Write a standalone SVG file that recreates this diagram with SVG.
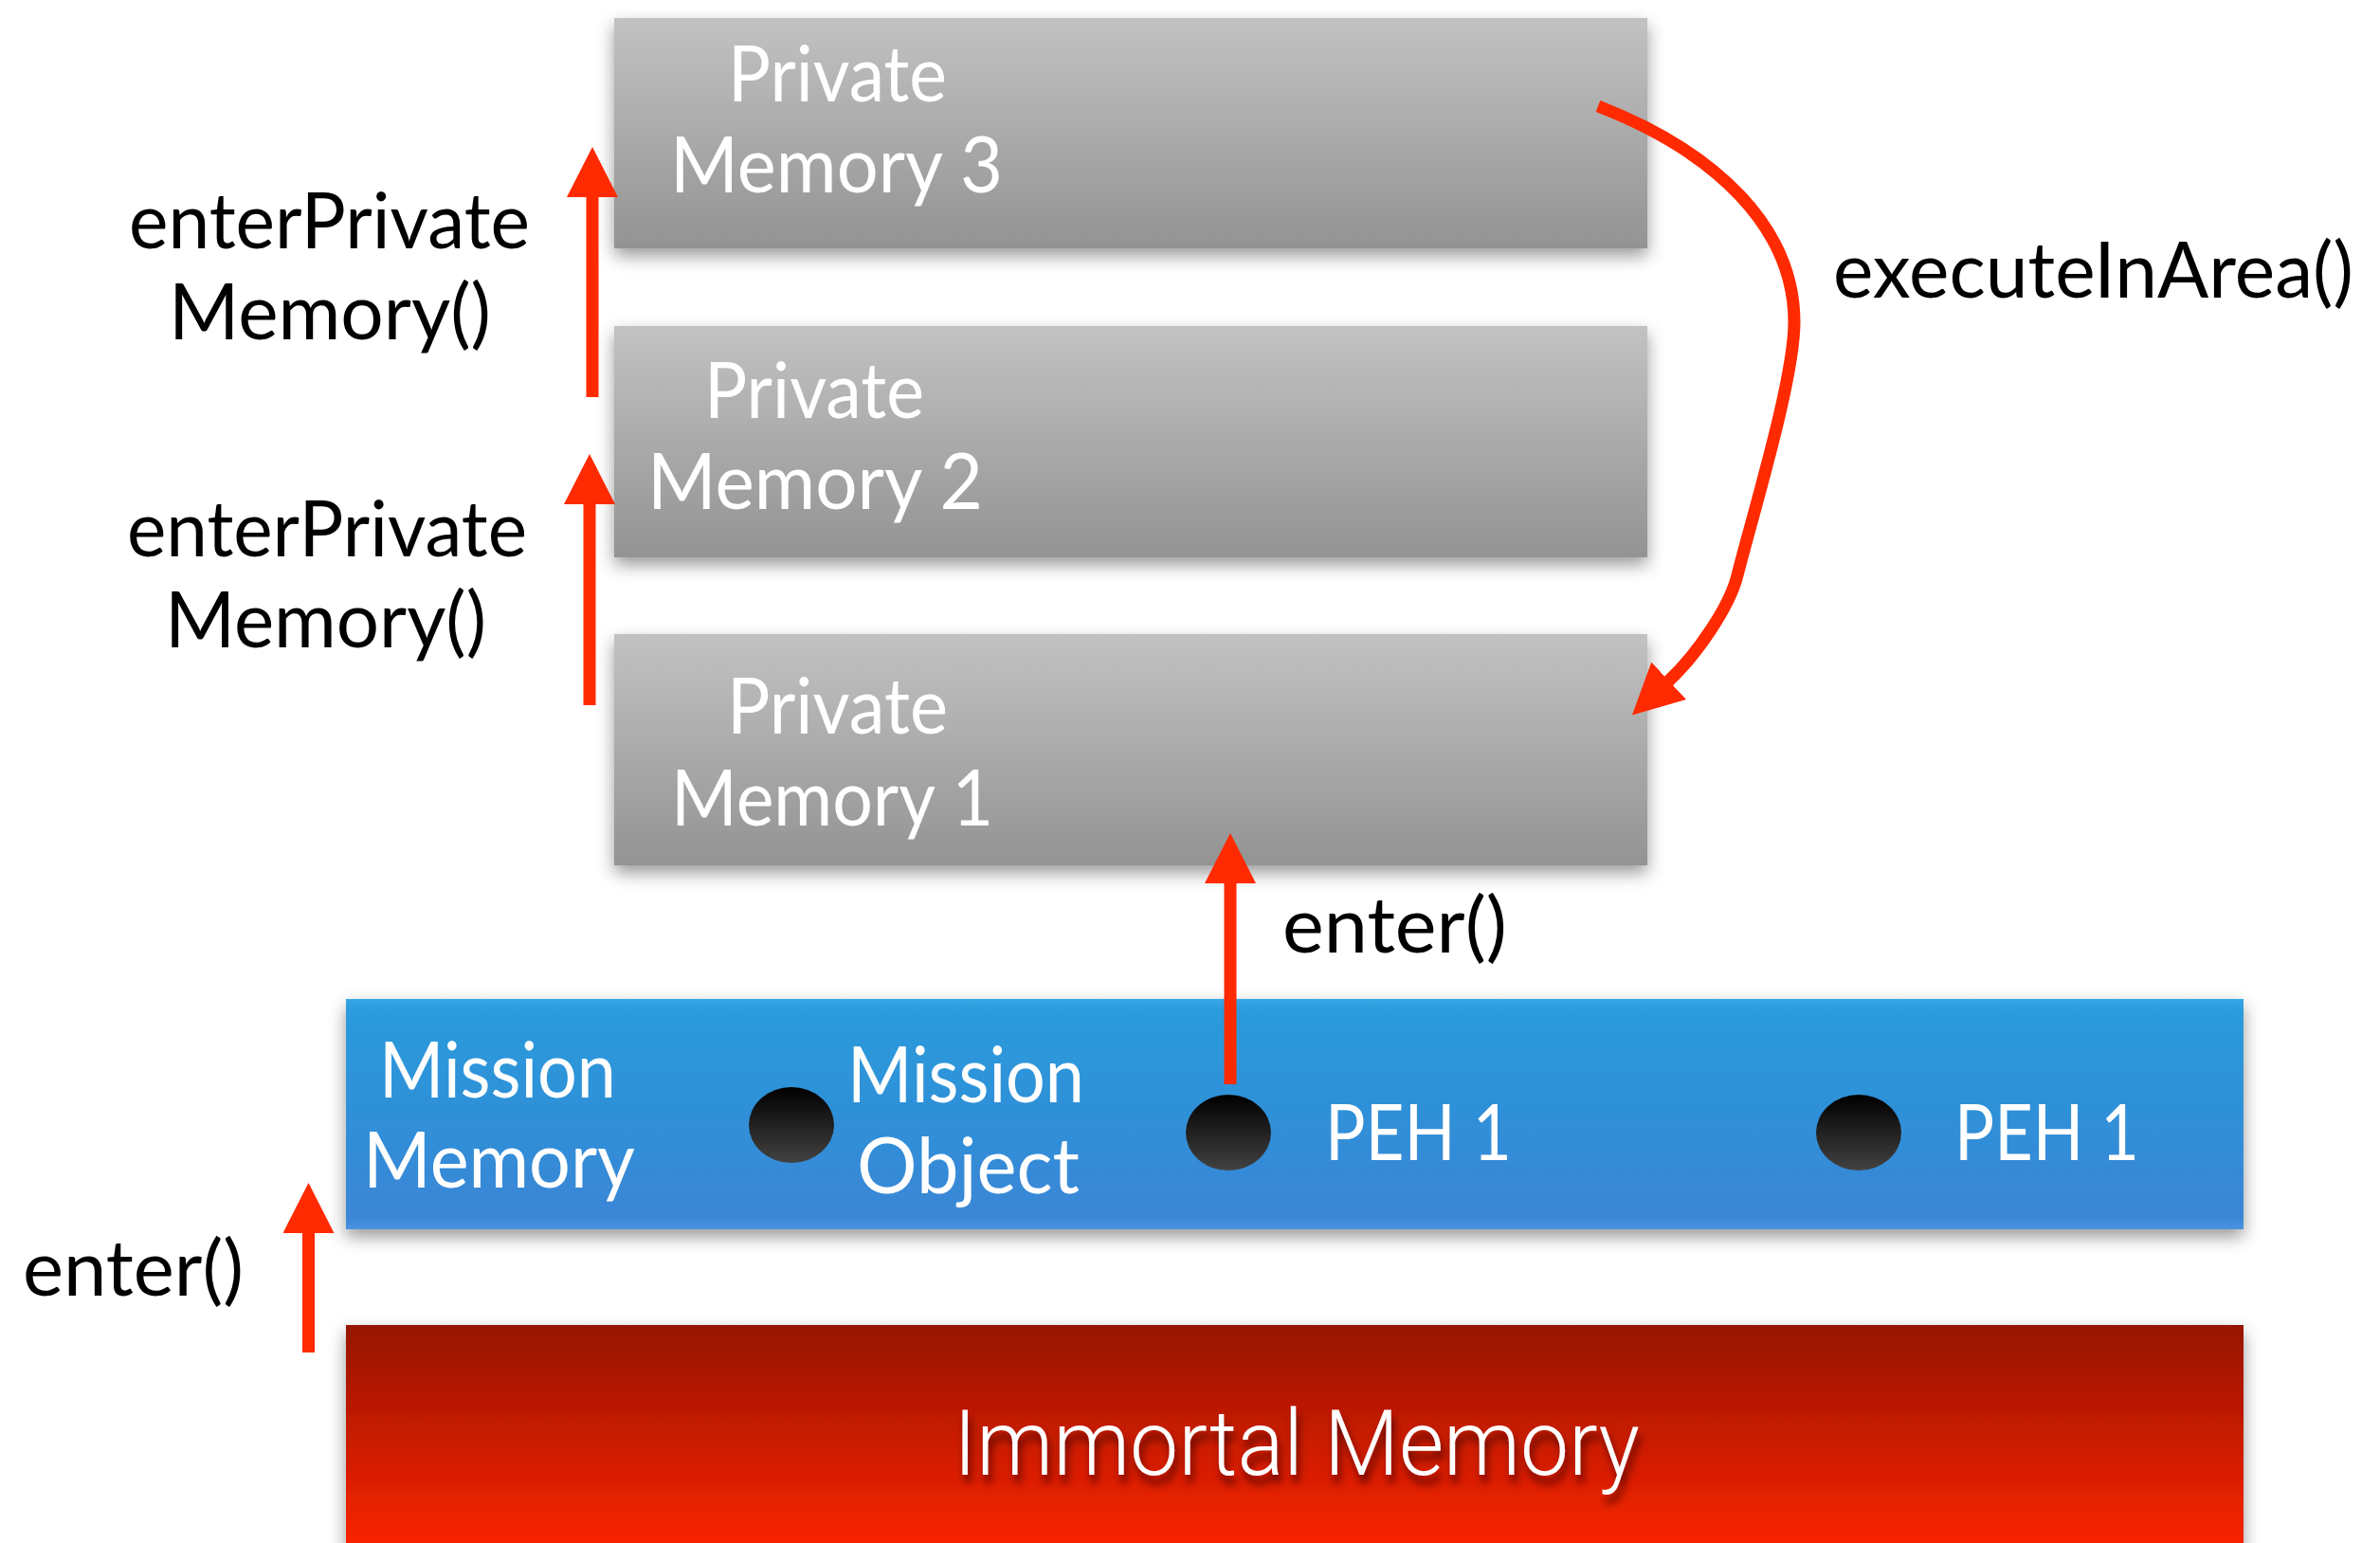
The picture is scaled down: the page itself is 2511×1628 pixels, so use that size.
<svg xmlns="http://www.w3.org/2000/svg" width="2511" height="1628" viewBox="0 0 2511 1628">
  <defs>
    <style>
      .lbl { font-family: Lato, "Open Sans", "Liberation Sans", sans-serif; font-size: 81px; }
      .dark { fill: #000000; }
      .light { fill: #ffffff; }
      .big { font-family: Roboto, Lato, "Liberation Sans", sans-serif; font-weight: 300; font-size: 97px; fill: #ffffff; }
      .wire { fill: none; stroke: #ff2a00; stroke-width: 13; stroke-linecap: butt; marker-end: url(#head); }
    </style>
    <linearGradient id="gGray" x1="0" y1="0" x2="0" y2="1">
      <stop offset="0" stop-color="#c2c2c2"/>
      <stop offset="1" stop-color="#939393"/>
    </linearGradient>
    <linearGradient id="gBlue" x1="0" y1="0" x2="0" y2="1">
      <stop offset="0" stop-color="#37a7e7"/>
      <stop offset="0.05" stop-color="#2b9bdc"/>
      <stop offset="0.5" stop-color="#2f90d8"/>
      <stop offset="0.95" stop-color="#3b86d6"/>
      <stop offset="1" stop-color="#4a93e0"/>
    </linearGradient>
    <linearGradient id="gRed" gradientUnits="userSpaceOnUse" x1="0" y1="1398" x2="0" y2="1628">
      <stop offset="0" stop-color="#961200"/>
      <stop offset="1" stop-color="#f82400"/>
    </linearGradient>
    <linearGradient id="gDot" x1="0" y1="0" x2="0" y2="1">
      <stop offset="0" stop-color="#000000"/>
      <stop offset="1" stop-color="#424242"/>
    </linearGradient>
    <filter id="boxShadow" x="-5%" y="-30%" width="110%" height="160%">
      <feDropShadow dx="0" dy="8" stdDeviation="9" flood-color="#000000" flood-opacity="0.4"/>
    </filter>
    <filter id="textShadow" x="-10%" y="-30%" width="120%" height="170%">
      <feDropShadow dx="3" dy="9" stdDeviation="4" flood-color="#3a0000" flood-opacity="0.75"/>
    </filter>
    <marker id="head" markerUnits="userSpaceOnUse" viewBox="0 -27 53 54" refX="1" refY="0" markerWidth="53" markerHeight="54" orient="auto">
      <path d="M0,-27 L53,0 L0,27 z" fill="#ff2a00"/>
    </marker>
  </defs>

  <rect width="2511" height="1628" fill="#ffffff"/>

  <!-- private memory areas, stacked -->
  <g id="private-memory-3">
    <rect x="648" y="19" width="1090" height="243" fill="url(#gGray)" filter="url(#boxShadow)"/>
    <text class="lbl light" x="768" y="107" textLength="231" lengthAdjust="spacingAndGlyphs">Private</text>
    <text class="lbl light" x="707" y="203" textLength="351" lengthAdjust="spacingAndGlyphs">Memory 3</text>
  </g>

  <g id="private-memory-2">
    <rect x="648" y="344" width="1090" height="244" fill="url(#gGray)" filter="url(#boxShadow)"/>
    <text class="lbl light" x="743" y="441" textLength="232" lengthAdjust="spacingAndGlyphs">Private</text>
    <text class="lbl light" x="683" y="537" textLength="354" lengthAdjust="spacingAndGlyphs">Memory 2</text>
  </g>

  <g id="private-memory-1">
    <rect x="648" y="669" width="1090" height="244" fill="url(#gGray)" filter="url(#boxShadow)"/>
    <text class="lbl light" x="767" y="774" textLength="233" lengthAdjust="spacingAndGlyphs">Private</text>
    <text class="lbl light" x="708" y="871" textLength="340" lengthAdjust="spacingAndGlyphs">Memory 1</text>
  </g>

  <!-- mission memory with its objects and handlers -->
  <g id="mission-memory">
    <rect x="365" y="1054" width="2002" height="243" fill="url(#gBlue)" filter="url(#boxShadow)"/>
    <text class="lbl light" x="400" y="1158" textLength="250" lengthAdjust="spacingAndGlyphs">Mission</text>
    <text class="lbl light" x="383" y="1253" textLength="287" lengthAdjust="spacingAndGlyphs">Memory</text>
    <g id="mission-object">
      <ellipse cx="835" cy="1187" rx="45" ry="40" fill="url(#gDot)"/>
      <text class="lbl light" x="894" y="1163" textLength="250" lengthAdjust="spacingAndGlyphs">Mission</text>
      <text class="lbl light" x="904" y="1259" textLength="235" lengthAdjust="spacingAndGlyphs">Object</text>
    </g>
    <g id="peh-a">
      <ellipse cx="1296" cy="1195" rx="45" ry="40" fill="url(#gDot)"/>
      <text class="lbl light" x="1398" y="1224" textLength="197" lengthAdjust="spacingAndGlyphs">PEH 1</text>
    </g>
    <g id="peh-b">
      <ellipse cx="1961" cy="1195" rx="45" ry="40" fill="url(#gDot)"/>
      <text class="lbl light" x="2062" y="1224" textLength="195" lengthAdjust="spacingAndGlyphs">PEH 1</text>
    </g>
  </g>

  <!-- immortal memory at the base -->
  <g id="immortal-memory">
    <rect x="365" y="1398" width="2002" height="242" fill="url(#gRed)" filter="url(#boxShadow)"/>
    <text class="big" x="1006" y="1556" textLength="724" lengthAdjust="spacingAndGlyphs" filter="url(#textShadow)">Immortal Memory</text>
  </g>

  <!-- calls between memory areas -->
  <g id="connectors">
    <g id="enter-private-3">
      <line class="wire" x1="625" y1="419" x2="625" y2="207"/>
      <text class="lbl dark" x="136" y="262" textLength="423" lengthAdjust="spacingAndGlyphs">enterPrivate</text>
      <text class="lbl dark" x="178" y="358" textLength="340" lengthAdjust="spacingAndGlyphs">Memory()</text>
    </g>
    <g id="enter-private-2">
      <line class="wire" x1="622" y1="744" x2="622" y2="531"/>
      <text class="lbl dark" x="134" y="587" textLength="422" lengthAdjust="spacingAndGlyphs">enterPrivate</text>
      <text class="lbl dark" x="174" y="683" textLength="339" lengthAdjust="spacingAndGlyphs">Memory()</text>
    </g>
    <g id="execute-in-area">
      <path class="wire" d="M1686,112 C1810,160 1893,240 1893,340 C1893,400 1850,540 1833,607 C1825,640 1790,691 1760,719"/>
      <text class="lbl dark" x="1934" y="314" textLength="549" lengthAdjust="spacingAndGlyphs">executeInArea()</text>
    </g>
    <g id="enter-private-1">
      <line class="wire" x1="1298" y1="1144" x2="1298" y2="931"/>
      <text class="lbl dark" x="1353" y="1005" textLength="237" lengthAdjust="spacingAndGlyphs">enter()</text>
    </g>
    <g id="enter-mission">
      <line class="wire" x1="325.5" y1="1427" x2="325.5" y2="1300"/>
      <text class="lbl dark" x="24" y="1367" textLength="233" lengthAdjust="spacingAndGlyphs">enter()</text>
    </g>
  </g>
</svg>
